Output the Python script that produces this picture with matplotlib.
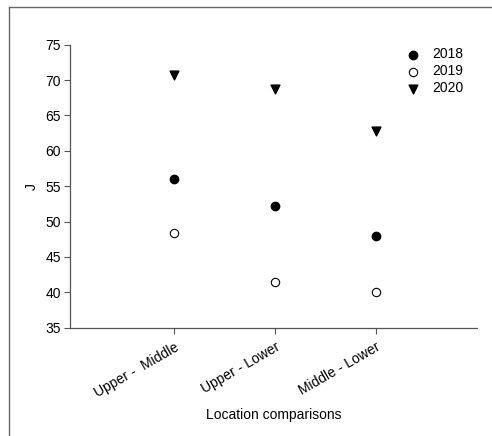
import matplotlib
matplotlib.use("Agg")
import matplotlib.pyplot as plt
from matplotlib.lines import Line2D

categories = ["Upper -  Middle", "Upper - Lower", "Middle - Lower"]
years = ["2018", "2019", "2020"]
j_2018 = [56.0, 52.15, 48.0]
j_2019 = [48.4, 41.4, 40.0]
j_2020 = [70.7, 68.8, 62.85]
yticks = [35, 40, 45, 50, 55, 60, 65, 70, 75]

plt.rcParams['font.family'] = ['Liberation Sans', 'DejaVu Sans']

W, H = 492, 436
fig = plt.figure(figsize=(W / 100, H / 100), dpi=100)
ax = fig.add_axes([69.5 / W, 1 - 327.7 / H, (477 - 69.5) / W, (327.7 - 44.7) / H])

x = [1, 2, 3]
ax.scatter(x, j_2018, s=36, marker='o', color='black', label=years[0], zorder=3)
ax.scatter(x, j_2019, s=36, marker='o', facecolor='white', edgecolor='black', linewidths=0.8, label=years[1], zorder=3)
ax.scatter(x, j_2020, s=40, marker='v', color='black', label=years[2], zorder=3)

ax.set_xlim(-0.035, 4.0)
ax.set_ylim(35, 75)
ax.set_yticks(yticks)
ax.set_xticks(x)
ax.set_xticklabels(categories, rotation=30, ha='right', va='top', rotation_mode='anchor', fontsize=10)
ax.tick_params(axis='both', direction='out', length=4, width=0.8, color='#555555', labelsize=10, pad=2)
ax.tick_params(axis='x', pad=5)
for s in ['top', 'right']:
    ax.spines[s].set_visible(False)
for s in ['left', 'bottom']:
    ax.spines[s].set_color('#555555')
    ax.spines[s].set_linewidth(0.9)

ax.set_ylabel('J', fontsize=10, labelpad=5)
ax.set_xlabel('Location comparisons', fontsize=10, labelpad=6)

leg = ax.legend(loc='upper right', bbox_to_anchor=(0.988, 1.02), frameon=False, fontsize=10,
                handletextpad=0.4, labelspacing=0.22, scatterpoints=1, borderaxespad=0.2)

# figure border (top and left)
fig.add_artist(Line2D([9 / W, 9 / W], [0, 1 - 7 / H], transform=fig.transFigure, color='#666666', lw=1))
fig.add_artist(Line2D([9 / W, 1], [1 - 7 / H, 1 - 7 / H], transform=fig.transFigure, color='#666666', lw=1))

fig.savefig('out.png', dpi=100)
